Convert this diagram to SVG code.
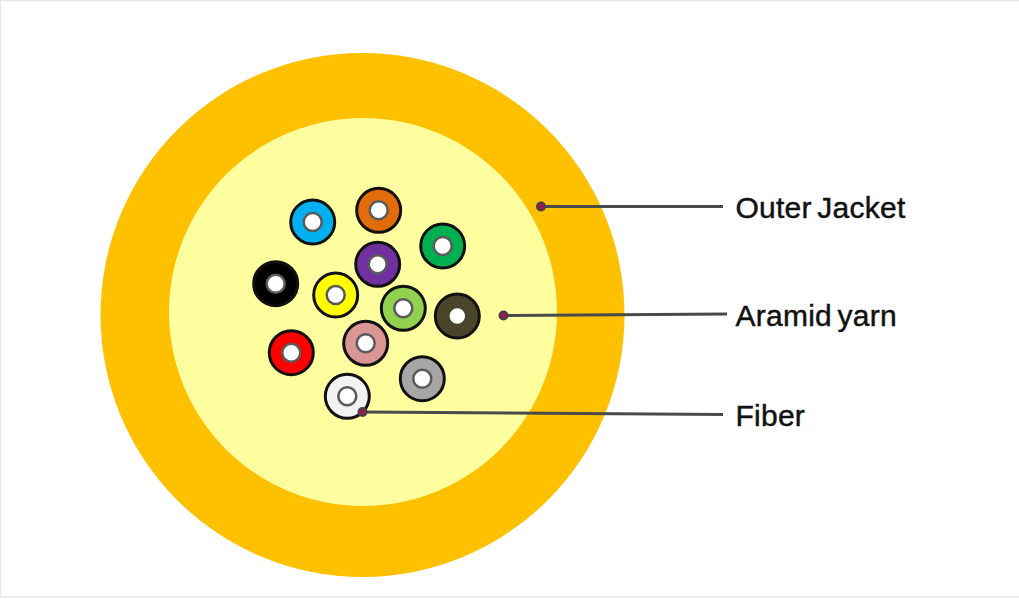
<svg xmlns="http://www.w3.org/2000/svg" width="1019" height="599" viewBox="0 0 1019 599">
<style>
.tube{stroke:#111;stroke-width:3}
.core{fill:#fff;stroke:#5a5a5a;stroke-width:2.5}
.lead{fill:none;stroke:#4a4a4a;stroke-width:3}
.dot{fill:#9b1c4a;stroke:#404050;stroke-width:2}
.label{font-family:"Liberation Sans",Arial,sans-serif;font-size:30px;word-spacing:-3px;letter-spacing:.25px;fill:#111;stroke:#111;stroke-width:.45}
</style>
<rect width="1019" height="599" fill="#fff"/>
<path d="M0 .5H1019M.5 0V597M0 597H1019" fill="none" stroke="#e8e8e8" stroke-width="1.5"/>
<g id="outer-jacket"><circle cx="362.500" cy="315" r="262" fill="#ffc000"/></g>
<g id="aramid-yarn"><circle cx="363" cy="312" r="194" fill="#ffff9f"/></g>
<g id="fiber-blue"><circle class="tube" cx="312.7" cy="222" r="22" fill="#00b0f0"/><circle class="core" cx="312.7" cy="222" r="9"/></g>
<g id="fiber-orange"><circle class="tube" cx="378.7" cy="210.3" r="22" fill="#e36c0a"/><circle class="core" cx="378.7" cy="210.3" r="9"/></g>
<g id="fiber-green"><circle class="tube" cx="442.7" cy="246" r="22" fill="#00b050"/><circle class="core" cx="442.7" cy="246" r="9"/></g>
<g id="fiber-purple"><circle class="tube" cx="377.7" cy="264.3" r="22" fill="#7030a0"/><circle class="core" cx="377.7" cy="264.3" r="9"/></g>
<g id="fiber-black"><circle class="tube" cx="275.7" cy="283.7" r="22" fill="#000"/><circle class="core" cx="275.7" cy="283.7" r="9"/></g>
<g id="fiber-yellow"><circle class="tube" cx="335.7" cy="295" r="22" fill="#ffff00"/><circle class="core" cx="335.7" cy="295" r="9"/></g>
<g id="fiber-lightgreen"><circle class="tube" cx="403.3" cy="308.3" r="22" fill="#92d050"/><circle class="core" cx="403.3" cy="308.3" r="9"/></g>
<g id="fiber-darkbrown"><circle class="tube" cx="457.3" cy="316" r="22" fill="#4a452a"/><circle class="core" cx="457.3" cy="316" r="9" style="stroke:#4a452a"/></g>
<g id="fiber-pink"><circle class="tube" cx="365.7" cy="343.3" r="22" fill="#d99694"/><circle class="core" cx="365.7" cy="343.3" r="9"/></g>
<g id="fiber-red"><circle class="tube" cx="291.3" cy="352.7" r="22" fill="#ff0000"/><circle class="core" cx="291.3" cy="352.7" r="9"/></g>
<g id="fiber-gray"><circle class="tube" cx="422.3" cy="378.7" r="22" fill="#a6a6a6"/><circle class="core" cx="422.3" cy="378.7" r="9"/></g>
<g id="fiber-white"><circle class="tube" cx="347.3" cy="396.3" r="22" fill="#f2f2f2"/><circle class="core" cx="347.3" cy="396.3" r="9"/></g>
<g id="connectors">
<path class="lead" d="M541 206.500H723"/>
<path class="lead" d="M504 315.500L727 314"/>
<path class="lead" d="M363 412L723 414.500"/>
<circle class="dot" cx="541" cy="206.500" r="4"/>
<circle class="dot" cx="503.500" cy="315.500" r="4"/>
<circle class="dot" cx="362.500" cy="412" r="4"/>
</g>
<g id="label-outer-jacket"><text class="label" x="735.500" y="218">Outer Jacket</text></g>
<g id="label-aramid-yarn"><text class="label" x="735.500" y="325.500">Aramid yarn</text></g>
<g id="label-fiber"><text class="label" x="735.500" y="425.500">Fiber</text></g>
</svg>
